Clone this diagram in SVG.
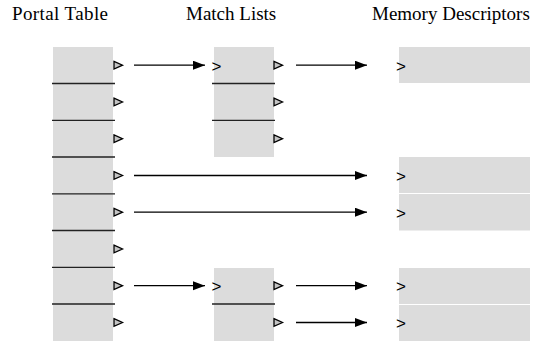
<svg xmlns="http://www.w3.org/2000/svg" width="548" height="344" viewBox="0 0 548 344">
<style>
.box{fill:#dcdcdc}
.div{stroke:#222;stroke-width:1.3}
.tri{fill:#c4c4c4;stroke:#000;stroke-width:1.3}
.gt{font-family:"Liberation Sans",Arial,sans-serif;font-size:17px;fill:#000}
.hd{font-family:"Liberation Serif","Times New Roman",serif;font-size:19px;fill:#000}
.ar{stroke:#000;stroke-width:1.3;fill:none;marker-end:url(#ah)}
</style>
<defs>
<marker id="ah" markerWidth="14" markerHeight="10" refX="12" refY="4.5" orient="auto" markerUnits="userSpaceOnUse">
<path d="M0,0 L12,4.5 L0,9 Z" fill="#000"/>
</marker>
<polygon id="t" class="tri" points="0,-3.8 8.5,0 0,3.8"/>
</defs>
<g id="headings">
<text class="hd" x="12" y="19.5" textLength="96">Portal Table</text>
<text class="hd" x="186" y="19.5">Match Lists</text>
<text class="hd" x="372" y="19.5">Memory Descriptors</text>
</g>
<g id="portal-table">
<rect class="box" x="53" y="47" width="60" height="294"/>
<line class="div" x1="52" y1="83.5" x2="115" y2="83.5"/>
<line class="div" x1="52" y1="120.3" x2="115" y2="120.3"/>
<line class="div" x1="52" y1="157" x2="115" y2="157"/>
<line class="div" x1="52" y1="193.8" x2="115" y2="193.8"/>
<line class="div" x1="52" y1="230.5" x2="115" y2="230.5"/>
<line class="div" x1="52" y1="267.3" x2="115" y2="267.3"/>
<line class="div" x1="52" y1="304" x2="115" y2="304"/>
<use href="#t" x="114" y="65.2"/>
<use href="#t" x="114" y="102"/>
<use href="#t" x="114" y="138.7"/>
<use href="#t" x="114" y="175.5"/>
<use href="#t" x="114" y="212.2"/>
<use href="#t" x="114" y="249"/>
<use href="#t" x="114" y="285.7"/>
<use href="#t" x="114" y="322.5"/>
</g>
<g id="match-list-1">
<rect class="box" x="214" y="47" width="60" height="110"/>
<line class="div" x1="212" y1="83.5" x2="275" y2="83.5"/>
<line class="div" x1="212" y1="120.3" x2="275" y2="120.3"/>
<text class="gt" x="211.5" y="71.5">&gt;</text>
<use href="#t" x="274" y="65.2"/>
<use href="#t" x="274" y="102"/>
<use href="#t" x="274" y="138.7"/>
</g>
<g id="match-list-2">
<rect class="box" x="214" y="268" width="60" height="73"/>
<line class="div" x1="212" y1="304" x2="275" y2="304"/>
<text class="gt" x="211.5" y="292">&gt;</text>
<use href="#t" x="274" y="285.7"/>
<use href="#t" x="274" y="322.5"/>
</g>
<g id="md-1">
<rect class="box" x="399" y="47" width="131" height="36"/>
<text class="gt" x="396" y="71.5">&gt;</text>
</g>
<g id="md-2">
<rect class="box" x="399" y="157" width="131" height="36"/>
<text class="gt" x="396" y="181.8">&gt;</text>
</g>
<g id="md-3">
<rect class="box" x="399" y="194" width="131" height="36.5"/>
<text class="gt" x="396" y="218.5">&gt;</text>
</g>
<g id="md-4">
<rect class="box" x="399" y="268" width="131" height="36"/>
<text class="gt" x="396" y="292">&gt;</text>
</g>
<g id="md-5">
<rect class="box" x="399" y="305" width="131" height="36"/>
<text class="gt" x="396" y="328.8">&gt;</text>
</g>
<g id="connectors">
<line class="ar" x1="134" y1="65.2" x2="205" y2="65.2"/>
<line class="ar" x1="296" y1="65.2" x2="367" y2="65.2"/>
<line class="ar" x1="134" y1="175.5" x2="367" y2="175.5"/>
<line class="ar" x1="134" y1="212.2" x2="367" y2="212.2"/>
<line class="ar" x1="134" y1="285.7" x2="205" y2="285.7"/>
<line class="ar" x1="296" y1="285.7" x2="367" y2="285.7"/>
<line class="ar" x1="296" y1="322.5" x2="367" y2="322.5"/>
</g>
</svg>
